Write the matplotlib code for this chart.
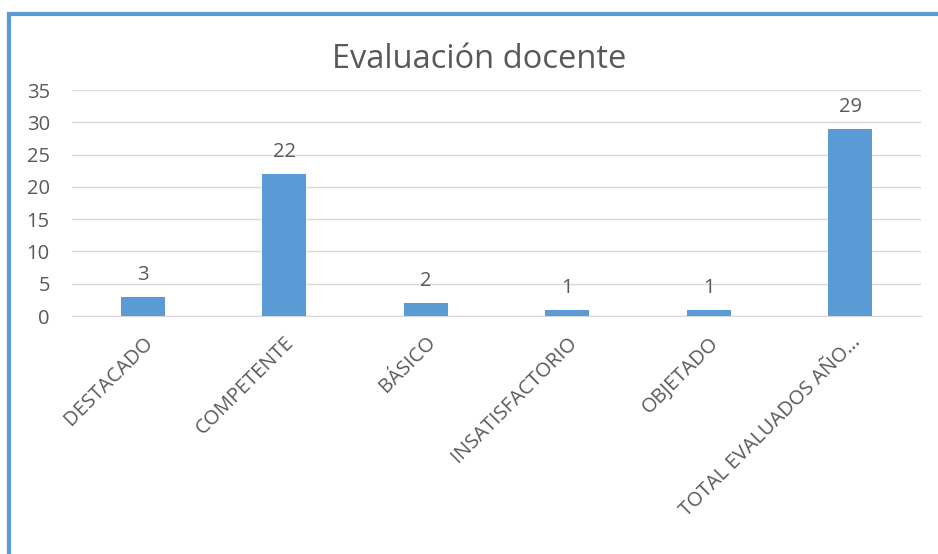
import matplotlib.pyplot as plt
from matplotlib.patches import Rectangle

categorias = ['DESTACADO', 'COMPETENTE', 'BÁSICO', 'INSATISFACTORIO', 'OBJETADO', 'TOTAL EVALUADOS AÑO…']
valores = [3, 22, 2, 1, 1, 29]
yticks = [0, 5, 10, 15, 20, 25, 30, 35]

plt.rcParams['font.family'] = ['Open Sans', 'DejaVu Sans']
gris = '#595959'
azul = '#5B9BD5'

fig = plt.figure(figsize=(9.38, 5.54), dpi=100)
ax = fig.add_axes([72 / 938, 1 - 316 / 554, (921 - 72) / 938, (316 - 90) / 554])

x = range(len(categorias))
bars = ax.bar(x, valores, width=0.31, color=azul, zorder=3)
for b, v in zip(bars, valores):
    ax.text(b.get_x() + b.get_width() / 2, v + 1.8, str(v), ha='center', va='bottom',
            fontsize=14.5, color=gris)

ax.set_xlim(-0.5, len(categorias) - 0.5)
ax.set_ylim(0, 35)
ax.set_yticks(yticks)
ax.set_xticks(list(x))
ax.set_xticklabels(categorias, rotation=45, ha='right', rotation_mode='anchor',
                   fontsize=14.5, color=gris)
ax.tick_params(axis='y', labelsize=14.5, labelcolor=gris, length=0, pad=16)
ax.tick_params(axis='x', length=0, pad=12)
ax.grid(axis='y', color='#D9D9D9', linewidth=1, zorder=0)
for s in ['top', 'right', 'left']:
    ax.spines[s].set_visible(False)
ax.spines['bottom'].set_color('#D9D9D9')

fig.text(479 / 938, 1 - 60 / 554, 'Evaluación docente', ha='center', va='center',
         fontsize=23.5, color=gris)

# borde azul del gráfico (recortado a la derecha y abajo)
fig.patches.append(Rectangle((9 / 938, -0.05), 1.1, 1 - 14 / 554 + 0.05, transform=fig.transFigure,
                             fill=False, edgecolor=azul, linewidth=3))

fig.savefig('out.png', dpi=100)
